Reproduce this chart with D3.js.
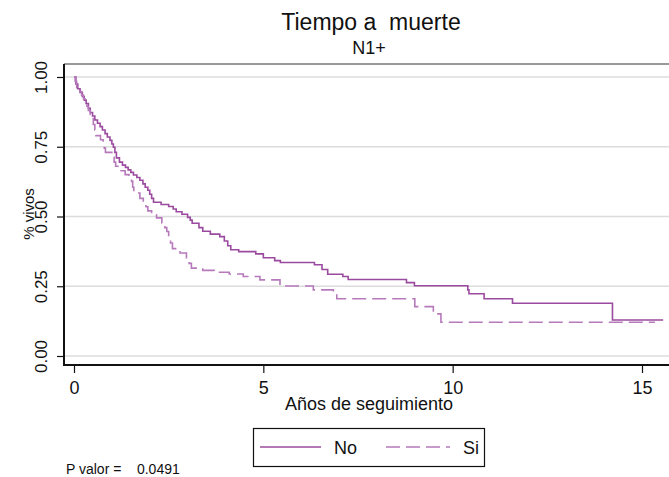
<!DOCTYPE html>
<html>
<head>
<meta charset="utf-8">
<script src="https://cdn.jsdelivr.net/npm/d3@7"></script>
<style>
  body { margin: 0; background: #fff; }
  svg { display: block; font-family: "Liberation Sans", Arial, sans-serif; }
</style>
</head>
<body>
<svg id="chart" width="669" height="477"></svg>
<script>
// Kaplan-Meier estimates (time in years, survival)
const noTime = [0, 0.05, 0.10, 0.16, 0.22, 0.27, 0.32, 0.38, 0.43, 0.49, 0.55, 0.62, 0.69, 0.75, 0.82, 0.88, 0.95, 1.00, 1.04, 1.08, 1.12, 1.20, 1.28, 1.36, 1.43, 1.50, 1.57, 1.66, 1.74, 1.82, 1.88, 1.95, 2.00, 2.05, 2.10, 2.30, 2.50, 2.62, 2.70, 2.85, 3.00, 3.07, 3.12, 3.30, 3.40, 3.60, 3.85, 3.97, 4.06, 4.14, 4.35, 4.80, 5.00, 5.30, 5.45, 6.35, 6.55, 6.70, 7.10, 7.24, 8.78, 8.99, 10.40, 10.43, 10.83, 11.58, 14.22, 15.56];
const noSurv = [1.000, 0.975, 0.958, 0.945, 0.930, 0.917, 0.905, 0.888, 0.873, 0.860, 0.846, 0.834, 0.822, 0.810, 0.797, 0.785, 0.773, 0.760, 0.748, 0.730, 0.710, 0.695, 0.684, 0.676, 0.667, 0.658, 0.649, 0.640, 0.630, 0.617, 0.605, 0.594, 0.580, 0.565, 0.551, 0.543, 0.536, 0.527, 0.517, 0.508, 0.497, 0.487, 0.476, 0.460, 0.447, 0.437, 0.428, 0.412, 0.395, 0.381, 0.374, 0.366, 0.352, 0.342, 0.335, 0.327, 0.310, 0.293, 0.285, 0.274, 0.263, 0.252, 0.237, 0.223, 0.205, 0.189, 0.129, 0.129];

const siTime = [0, 0.03, 0.07, 0.13, 0.20, 0.25, 0.29, 0.34, 0.38, 0.43, 0.47, 0.51, 0.55, 0.58, 0.70, 0.77, 0.80, 0.83, 1.00, 1.06, 1.10, 1.21, 1.35, 1.45, 1.52, 1.55, 1.58, 1.74, 1.83, 1.90, 1.95, 2.05, 2.18, 2.32, 2.40, 2.45, 2.50, 2.55, 2.60, 2.80, 2.97, 3.04, 3.10, 3.40, 3.70, 4.10, 4.47, 4.91, 5.44, 6.32, 6.85, 6.94, 9.00, 9.49, 9.69, 15.34];
const siSurv = [1.000, 0.985, 0.962, 0.948, 0.935, 0.922, 0.910, 0.895, 0.880, 0.866, 0.851, 0.830, 0.810, 0.790, 0.775, 0.762, 0.745, 0.730, 0.712, 0.695, 0.680, 0.664, 0.650, 0.638, 0.626, 0.605, 0.584, 0.565, 0.552, 0.535, 0.520, 0.506, 0.495, 0.477, 0.460, 0.446, 0.425, 0.405, 0.385, 0.369, 0.352, 0.332, 0.315, 0.307, 0.300, 0.294, 0.285, 0.273, 0.251, 0.237, 0.225, 0.205, 0.177, 0.151, 0.121, 0.121];

const xTicks = [0, 5, 10, 15];
const yTicks = [0, 0.25, 0.5, 0.75, 1];
const legendLabels = ["No", "Si"];

const svg = d3.select("#chart");
const W = 669, H = 477;

// plot region (right side runs past the window, as in the original export)
const plotLeft = 64, plotTop = 64, plotBottom = 365;

const x = d3.scaleLinear().domain([0, 15]).range([74, 642]);
const y = d3.scaleLinear().domain([0, 1]).range([356, 77]);

const colNo = "#9b4b9f", colSi = "#b67abb";

// titles
svg.append("text")
    .attr("x", 371).attr("y", 29.5)
    .attr("text-anchor", "middle")
    .attr("font-size", 23)
    .attr("fill", "#111")
    .style("white-space", "pre")
    .text("Tiempo a  muerte");

svg.append("text")
    .attr("x", 369).attr("y", 54)
    .attr("text-anchor", "middle")
    .attr("font-size", 18)
    .attr("fill", "#111")
    .text("N1+");

// gridlines
svg.append("g")
    .selectAll("line")
    .data(yTicks)
    .join("line")
    .attr("x1", plotLeft).attr("x2", W)
    .attr("y1", d => y(d)).attr("y2", d => y(d))
    .attr("stroke", "#dcdcdc")
    .attr("stroke-width", 1.5);

// frame top
svg.append("line")
    .attr("x1", plotLeft).attr("x2", W)
    .attr("y1", plotTop).attr("y2", plotTop)
    .attr("stroke", "#333").attr("stroke-width", 1);

// y axis
const yAxis = svg.append("g")
    .attr("transform", `translate(${plotLeft},0)`)
    .call(d3.axisLeft(y).tickValues(yTicks).tickFormat(d3.format(".2f")).tickSize(7).tickPadding(0));
yAxis.select(".domain").remove();
yAxis.selectAll(".tick line").attr("stroke", "#111").attr("stroke-width", 1.2);
yAxis.selectAll(".tick text")
    .attr("x", 0).attr("dy", null)
    .attr("transform", "translate(-17,0) rotate(-90)")
    .attr("text-anchor", "middle")
    .attr("font-size", 17)
    .attr("font-family", "Liberation Sans, Arial, sans-serif")
    .attr("fill", "#111");

// x axis
const xAxis = svg.append("g")
    .attr("transform", `translate(0,${plotBottom})`)
    .call(d3.axisBottom(x).tickValues(xTicks).tickSize(8).tickPadding(0));
xAxis.select(".domain").remove();
xAxis.selectAll(".tick line").attr("stroke", "#111").attr("stroke-width", 1.2);
xAxis.selectAll(".tick text")
    .attr("y", 28.5).attr("dy", null)
    .attr("font-size", 18)
    .attr("font-family", "Liberation Sans, Arial, sans-serif")
    .attr("fill", "#111");

// axis lines
svg.append("line")
    .attr("x1", plotLeft).attr("x2", plotLeft)
    .attr("y1", plotTop).attr("y2", plotBottom + 1)
    .attr("stroke", "#111").attr("stroke-width", 2);
svg.append("line")
    .attr("x1", plotLeft - 1).attr("x2", W)
    .attr("y1", plotBottom).attr("y2", plotBottom)
    .attr("stroke", "#111").attr("stroke-width", 2.2);

// axis titles
svg.append("text")
    .attr("transform", "translate(34,214) rotate(-90)")
    .attr("text-anchor", "middle")
    .attr("font-size", 15)
    .attr("fill", "#111")
    .text("% vivos");

svg.append("text")
    .attr("x", 369).attr("y", 410)
    .attr("text-anchor", "middle")
    .attr("font-size", 18)
    .attr("fill", "#111")
    .text("Años de seguimiento");

// survival curves
const step = d3.line()
    .x(d => x(d[0]))
    .y(d => y(d[1]))
    .curve(d3.curveStepAfter);

svg.append("path")
    .datum(d3.zip(noTime, noSurv))
    .attr("fill", "none")
    .attr("stroke", colNo)
    .attr("stroke-width", 1.6)
    .attr("d", step);

svg.append("path")
    .datum(d3.zip(siTime, siSurv))
    .attr("fill", "none")
    .attr("stroke", colSi)
    .attr("stroke-width", 1.6)
    .attr("stroke-dasharray", "14,6")
    .attr("d", step);

// legend
const lg = svg.append("g");
lg.append("rect")
    .attr("x", 253.5).attr("y", 428.5)
    .attr("width", 231).attr("height", 38)
    .attr("fill", "#fff")
    .attr("stroke", "#111").attr("stroke-width", 1.2);

const legendItems = [
    { label: legendLabels[0], x1: 260, x2: 321, tx: 334, color: colNo, dash: null },
    { label: legendLabels[1], x1: 386, x2: 450, tx: 463, color: colSi, dash: "14,6" }
];
legendItems.forEach(it => {
    lg.append("line")
        .attr("x1", it.x1).attr("x2", it.x2)
        .attr("y1", 447).attr("y2", 447)
        .attr("stroke", it.color).attr("stroke-width", 1.6)
        .attr("stroke-dasharray", it.dash);
    lg.append("text")
        .attr("x", it.tx).attr("y", 454)
        .attr("font-size", 18)
        .attr("fill", "#111")
        .text(it.label);
});

// p-value note
svg.append("text")
    .attr("x", 66).attr("y", 474)
    .attr("font-size", 14)
    .attr("fill", "#111")
    .style("white-space", "pre")
    .text("P valor =    0.0491");
</script>
</body>
</html>
